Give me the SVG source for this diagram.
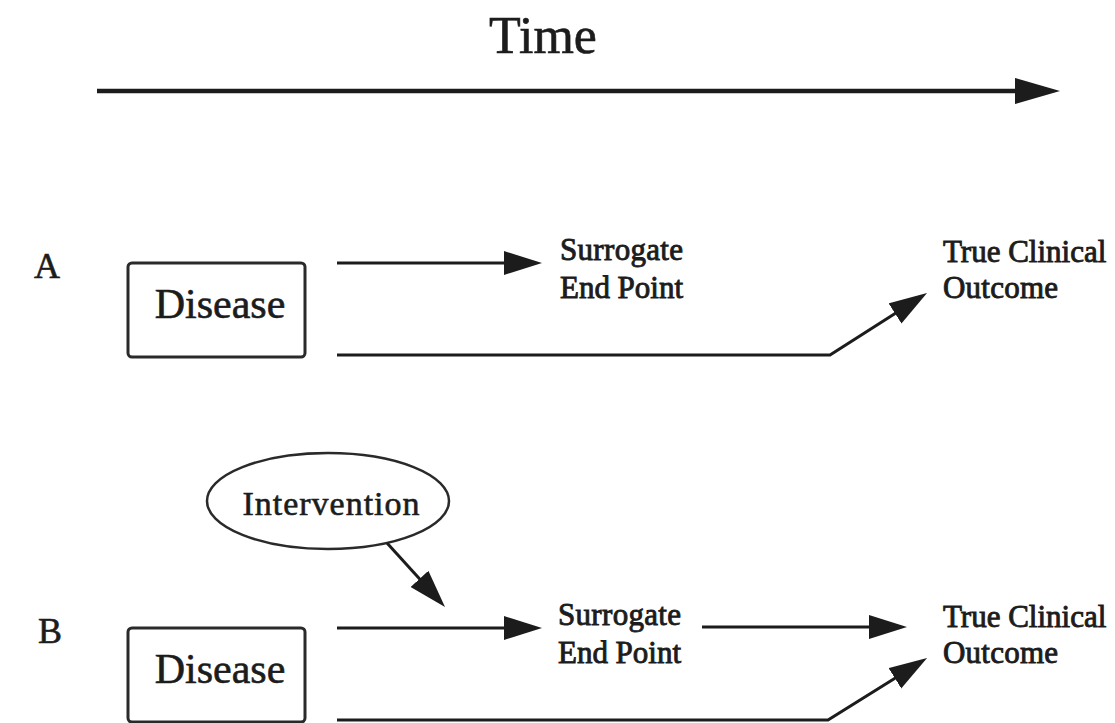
<svg xmlns="http://www.w3.org/2000/svg" width="1115" height="723" viewBox="0 0 1115 723">
<style>
.t{font-family:"Liberation Serif","Times New Roman",serif;fill:#1c1c1c;stroke:#1c1c1c;stroke-width:0.6}
.big{font-size:52px}
.lab{font-size:36px}
.dz{font-size:42px}
.sm{font-size:31px;stroke-width:0.9}
.iv{font-size:34px}
.ln{fill:none;stroke:#1c1c1c;stroke-width:3}
.box{fill:#fff;stroke:#2a2a2a;stroke-width:3}
</style>
<defs>
<marker id="ah" markerUnits="userSpaceOnUse" markerWidth="40" markerHeight="26" refX="28" refY="12" orient="auto">
<path d="M0,0 L38,12 L0,24 z" fill="#1c1c1c"/>
</marker>
<marker id="ahBig" markerUnits="userSpaceOnUse" markerWidth="48" markerHeight="30" refX="35" refY="13" orient="auto">
<path d="M0,0 L45,13 L0,26 z" fill="#1c1c1c"/>
</marker>
</defs>
<rect width="1115" height="723" fill="#fff"/>
<g id="time">
<text class="t big" x="543" y="53" text-anchor="middle">Time</text>
<line x1="97" y1="91" x2="1050" y2="91" stroke="#1c1c1c" stroke-width="4.5" marker-end="url(#ahBig)"/>
</g>
<text id="labelA" class="t lab" x="34" y="278">A</text>
<text id="labelB" class="t lab" x="38" y="643">B</text>
<g id="diseaseA">
<rect class="box" x="128" y="263" width="177" height="94" rx="4"/>
<text class="t dz" x="220" y="318" text-anchor="middle">Disease</text>
</g>
<g id="surrogateA">
<text class="t sm" x="560" y="260" textLength="123">Surrogate</text>
<text class="t sm" x="560" y="298" textLength="123">End Point</text>
</g>
<g id="outcomeA">
<text class="t sm" x="943" y="262">True Clinical</text>
<text class="t sm" x="943" y="298" textLength="115">Outcome</text>
</g>
<g id="intervention">
<ellipse cx="328" cy="501" rx="121" ry="48" fill="#fff" stroke="#2a2a2a" stroke-width="2.5"/>
<text class="t iv" x="331" y="515" text-anchor="middle" textLength="177">Intervention</text>
</g>
<g id="diseaseB">
<rect class="box" x="128" y="628" width="177" height="94" rx="4"/>
<text class="t dz" x="220" y="683" text-anchor="middle">Disease</text>
</g>
<g id="surrogateB">
<text class="t sm" x="558" y="625" textLength="123">Surrogate</text>
<text class="t sm" x="558" y="663" textLength="123">End Point</text>
</g>
<g id="outcomeB">
<text class="t sm" x="943" y="627">True Clinical</text>
<text class="t sm" x="943" y="663" textLength="115">Outcome</text>
</g>
<g id="connectors">
<path class="ln" d="M337,263 L532,263" marker-end="url(#ah)"/>
<path class="ln" d="M337,355 L830,355 L918.6,298.4" marker-end="url(#ah)"/>
<path class="ln" d="M337,628 L532,628" marker-end="url(#ah)"/>
<path class="ln" d="M702,627 L897,627" marker-end="url(#ah)"/>
<path class="ln" d="M337,720 L828,720 L918.6,663.4" marker-end="url(#ah)"/>
<path class="ln" d="M387,543 L438.3,599.6" marker-end="url(#ah)"/>
</g>
</svg>
